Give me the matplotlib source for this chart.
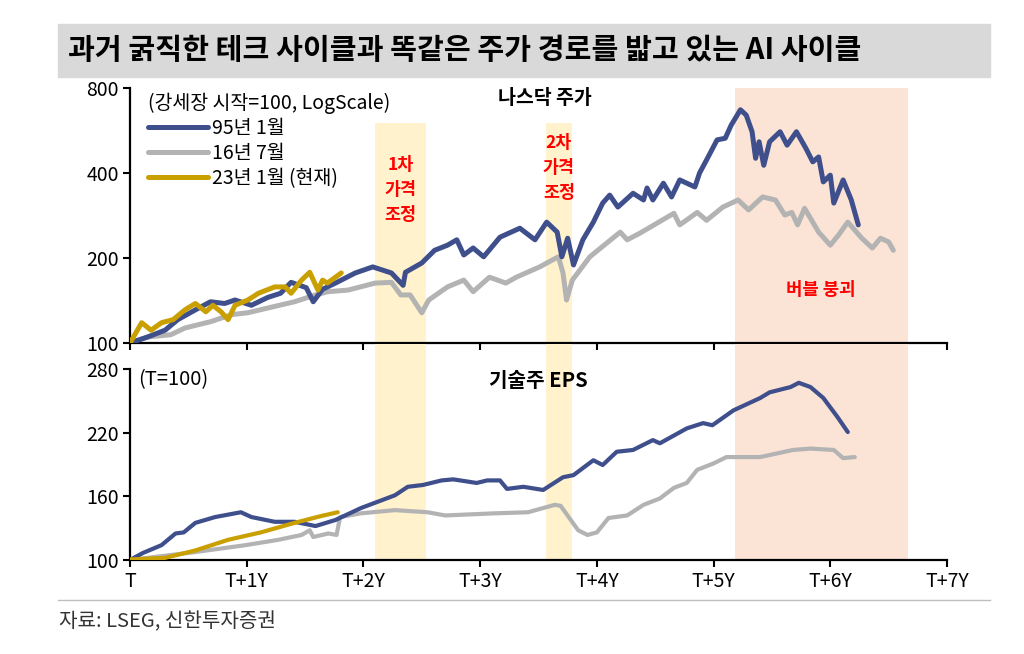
import matplotlib.pyplot as plt
import matplotlib.patches as mpatches
import numpy as np

plt.rcParams['font.family'] = ['Noto Sans CJK KR', 'DejaVu Sans']

# 나스닥 주가 (강세장 시작=100) - 시간축은 연 단위
t_95 = [0, 0.15, 0.30, 0.41, 0.56, 0.69, 0.81, 0.90, 1.04, 1.18, 1.29, 1.38, 1.51, 1.57, 1.65,
        1.76, 1.93, 2.08, 2.24, 2.34, 2.36, 2.50, 2.61, 2.72, 2.80, 2.86, 2.94, 3.03, 3.17, 3.34,
        3.47, 3.57, 3.66, 3.70, 3.75, 3.80, 3.88, 3.97, 4.05, 4.11, 4.18, 4.31, 4.40, 4.43, 4.48,
        4.57, 4.64, 4.71, 4.84, 4.88, 4.94, 5.03, 5.10, 5.15, 5.23, 5.28, 5.33, 5.36, 5.39, 5.43,
        5.48, 5.57, 5.63, 5.71, 5.79, 5.85, 5.90, 5.94, 6.00, 6.03, 6.11, 6.18, 6.24]
p_95 = [100, 105, 111, 121, 131, 140, 138, 142, 136, 145, 150, 164, 157, 140, 155,
        163, 177, 186, 177, 160, 178, 192, 213, 222, 232, 205, 217, 202, 237, 255,
        232, 268, 247, 202, 235, 189, 232, 268, 313, 334, 303, 339, 321, 354, 321,
        368, 329, 378, 357, 400, 445, 524, 531, 590, 670, 641, 560, 451, 516, 426,
        516, 560, 502, 560, 490, 438, 456, 372, 393, 313, 378, 321, 262]

t_16 = [0, 0.15, 0.35, 0.47, 0.69, 0.87, 1.01, 1.18, 1.41, 1.59, 1.70, 1.87, 2.10, 2.24, 2.32,
        2.40, 2.50, 2.56, 2.72, 2.86, 2.94, 3.08, 3.22, 3.31, 3.51, 3.67, 3.71, 3.74, 3.79, 3.94,
        4.20, 4.26, 4.37, 4.66, 4.71, 4.86, 4.94, 5.08, 5.21, 5.30, 5.42, 5.53, 5.61, 5.67, 5.72,
        5.78, 5.90, 6.00, 6.07, 6.15, 6.27, 6.36, 6.43, 6.50, 6.54]
p_16 = [100, 105, 107, 113, 119, 126, 128, 133, 140, 148, 152, 154, 163, 164, 148,
        148, 128, 142, 158, 167, 152, 171, 163, 171, 186, 202, 177, 142, 167, 202,
        247, 232, 245, 288, 262, 290, 272, 303, 321, 296, 329, 321, 284, 290, 262,
        300, 247, 222, 241, 268, 235, 217, 235, 228, 213]

t_23 = [0, 0.10, 0.18, 0.27, 0.37, 0.47, 0.56, 0.65, 0.71, 0.78, 0.84, 0.90, 1.01, 1.10, 1.24,
        1.33, 1.38, 1.47, 1.54, 1.61, 1.65, 1.69, 1.81]
p_23 = [100, 118, 111, 118, 121, 131, 138, 129, 136, 129, 121, 136, 142, 150, 158,
        158, 150, 167, 178, 154, 167, 163, 177]

# 기술주 EPS (T=100)
te_95 = [0, 0.11, 0.27, 0.39, 0.46, 0.56, 0.73, 0.95, 1.04, 1.24, 1.41, 1.59, 1.76, 1.98, 2.27,
         2.38, 2.51, 2.67, 2.77, 2.97, 3.06, 3.17, 3.23, 3.37, 3.54, 3.71, 3.80, 3.97,
         4.05, 4.17, 4.31, 4.48, 4.54, 4.77, 4.91, 4.99, 5.17, 5.40, 5.48, 5.66, 5.73, 5.83, 5.94,
         6.06, 6.15]
e_95 = [100, 106.6, 114, 125, 126, 135, 140.5, 145, 140.5, 136, 136, 132, 137.7, 149, 161,
        169, 170.7, 175, 176, 172.6, 175, 175, 167, 169, 166, 178, 180, 194,
        189.5, 202, 203.7, 213, 210, 224, 229, 227, 241, 252.7, 258, 263, 267, 263, 252.7,
        235, 220.6]

te_16 = [0, 0.56, 0.99, 1.27, 1.47, 1.54, 1.57, 1.70, 1.77, 1.80, 1.98, 2.27, 2.55, 2.70, 3.13,
         3.41, 3.64, 3.69, 3.84, 3.92, 4.00, 4.10, 4.26, 4.40, 4.54, 4.66, 4.77,
         4.86, 5.00, 5.11, 5.40, 5.68, 5.83, 6.03, 6.11, 6.21]
e_16 = [100, 107.5, 114, 119, 123.6, 128, 121.7, 125, 123.6, 140.5, 144, 147, 145, 142, 144,
        145, 152, 151, 128, 123.6, 126, 139.6, 142, 152, 158, 168, 172.6,
        185, 191, 197, 197, 203.7, 205, 203.7, 196, 197]

te_23 = [0, 0.30, 0.56, 0.84, 1.12, 1.41, 1.64, 1.78]
e_23 = [100.5, 102, 109, 119, 126, 135, 141.5, 145]

x_ticks = [0, 1, 2, 3, 4, 5, 6, 7]
x_labels = ['T', 'T+1Y', 'T+2Y', 'T+3Y', 'T+4Y', 'T+5Y', 'T+6Y', 'T+7Y']

# 음영 구간
adj1 = (2.10, 2.54)
adj2 = (3.56, 3.79)
bubble = (5.18, 6.67)

navy = '#3f4f8c'
gray = '#b3b3b3'
gold = '#c9a000'
yellow = '#fff2cc'
salmon = '#fbe4d6'

fig = plt.figure(figsize=(10.24, 6.54), dpi=100)

# 제목 영역
fig.patches.append(mpatches.Rectangle((58 / 1024, 1 - 77 / 654), 932 / 1024, 53 / 654,
                                      transform=fig.transFigure, color='#d9d9d9', zorder=0))
fig.text(68 / 1024, 1 - 50 / 654, '과거 굵직한 테크 사이클과 똑같은 주가 경로를 밟고 있는 AI 사이클',
         fontsize=21, fontweight='bold', va='center', ha='left')

# 하단 출처
fig.add_artist(plt.Line2D([58 / 1024, 990 / 1024], [1 - 600 / 654, 1 - 600 / 654],
                          transform=fig.transFigure, color='#bfbfbf', lw=1))
fig.text(59 / 1024, 1 - 622 / 654, '자료: LSEG, 신한투자증권', fontsize=14.5, color='#333333',
         va='center', ha='left')

ax1 = fig.add_axes([130 / 1024, 1 - 343 / 654, 817 / 1024, 255 / 654])
ax2 = fig.add_axes([130 / 1024, 1 - 560 / 654, 817 / 1024, 191 / 654])

# 상단: 나스닥 주가 (로그)
ax1.set_yscale('log')
ax1.set_ylim(100, 800)
ax1.set_xlim(0, 7)
top_yel = np.log(600 / 100) / np.log(8)
ax1.axvspan(*adj1, ymax=top_yel, color=yellow, lw=0, zorder=0)
ax1.axvspan(*adj2, ymax=top_yel, color=yellow, lw=0, zorder=0)
ax1.axvspan(*bubble, color=salmon, lw=0, zorder=0)

ax1.plot(t_16, p_16, color=gray, lw=3.6, label='16년 7월', zorder=2, solid_capstyle='round')
ax1.plot(t_95, p_95, color=navy, lw=3.6, label='95년 1월', zorder=3, solid_capstyle='round')
ax1.plot(t_23, p_23, color=gold, lw=3.6, label='23년 1월 (현재)', zorder=4, solid_capstyle='round')

ax1.set_yticks([100, 200, 400, 800])
ax1.set_yticklabels(['100', '200', '400', '800'])
ax1.yaxis.set_minor_locator(plt.NullLocator())
ax1.set_xticks(x_ticks)
ax1.set_xticklabels([])

handles, labels = ax1.get_legend_handles_labels()
order = [1, 0, 2]
leg = ax1.legend([handles[i] for i in order], [labels[i] for i in order],
                 title='(강세장 시작=100, LogScale)', loc='upper left',
                 bbox_to_anchor=(0.005, 1.035), frameon=False, fontsize=14,
                 title_fontsize=14, handlelength=3.1, handletextpad=0.2,
                 labelspacing=0.2, alignment='left', borderaxespad=0.3)

ax1.text(0.508, 0.96, '나스닥 주가', transform=ax1.transAxes, ha='center', va='center',
         fontsize=14, fontweight='bold')
ax1.text(2.32, 0.60, '1차\n가격\n조정', transform=ax1.get_xaxis_transform(), ha='center',
         va='center', color='#ff0000', fontsize=12.5, fontweight='bold', linespacing=1.5)
ax1.text(3.675, 0.686, '2차\n가격\n조정', transform=ax1.get_xaxis_transform(), ha='center',
         va='center', color='#ff0000', fontsize=12.5, fontweight='bold', linespacing=1.5)
ax1.text(5.92, 0.208, '버블 붕괴', transform=ax1.get_xaxis_transform(), ha='center',
         va='center', color='#ff0000', fontsize=12.8, fontweight='bold')

# 하단: 기술주 EPS
ax2.set_ylim(100, 280)
ax2.set_xlim(0, 7)
ext = 1 + 25 / 191
for span, c in [(adj1, yellow), (adj2, yellow), (bubble, salmon)]:
    r = mpatches.Rectangle((span[0], 0), span[1] - span[0], ext, color=c, lw=0,
                           transform=ax2.get_xaxis_transform(), clip_on=False, zorder=0)
    ax2.add_patch(r)

ax2.plot(te_16, e_16, color=gray, lw=3.0, zorder=2, solid_capstyle='round')
ax2.plot(te_95, e_95, color=navy, lw=3.0, zorder=3, solid_capstyle='round')
ax2.plot(te_23, e_23, color=gold, lw=3.0, zorder=4, solid_capstyle='round')

ax2.set_yticks([100, 160, 220, 280])
ax2.set_xticks(x_ticks)
ax2.set_xticklabels(x_labels)
ax2.text(0.01, 0.942, '(T=100)', transform=ax2.transAxes, ha='left', va='center', fontsize=14.5)
ax2.text(0.5, 0.942, '기술주 EPS', transform=ax2.transAxes, ha='center', va='center',
         fontsize=14.5, fontweight='bold')

for ax in (ax1, ax2):
    ax.patch.set_alpha(0)
    ax.spines['top'].set_visible(False)
    ax.spines['right'].set_visible(False)
    ax.spines['left'].set_linewidth(1.6)
    ax.spines['bottom'].set_linewidth(1.6)
    ax.tick_params(axis='both', direction='out', length=5, width=1.5, labelsize=14, pad=3)

fig.savefig('out.png', dpi=100)
